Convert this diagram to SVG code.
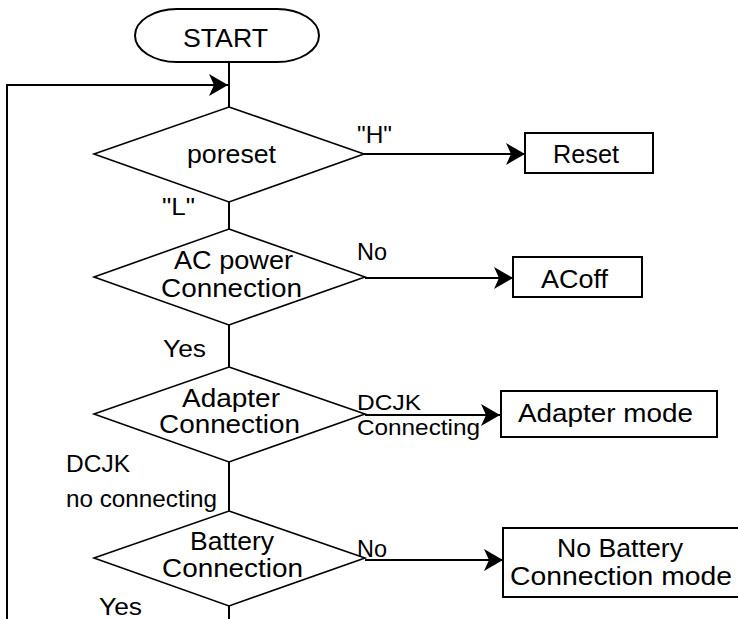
<svg xmlns="http://www.w3.org/2000/svg" width="738" height="619" viewBox="0 0 738 619">
<style>
  .shape { fill: #ffffff; stroke: #000000; stroke-width: 2; }
  .dia { fill: #ffffff; stroke: #000000; stroke-width: 1.6; }
  .conn { fill: none; stroke: #000000; stroke-width: 2; }
  .arrow { fill: none; stroke: #000000; stroke-width: 2; marker-end: url(#ah); }
  text { font-family: "Liberation Sans", Arial, sans-serif; font-size: 24px; fill: #000000; }
  .node { font-size: 25px; }
  .small { font-size: 22px; }
</style>
<defs>
  <marker id="ah" viewBox="-20 -12 21 24" markerWidth="21" markerHeight="24" refX="0" refY="0" orient="auto" markerUnits="userSpaceOnUse">
    <path d="M0,0 L-19,-11 L-14,0 L-19,11 Z" fill="#000000"/>
  </marker>
</defs>
<rect width="738" height="619" fill="#ffffff"/>

<g id="connectors">
  <line class="conn" x1="229" y1="62" x2="229" y2="107"/>
  <polyline class="arrow" points="7,619 7,85 228,85"/>
  <line class="conn" x1="229" y1="202" x2="229" y2="229"/>
  <line class="conn" x1="229" y1="325" x2="229" y2="367"/>
  <line class="conn" x1="229" y1="462" x2="229" y2="511"/>
  <line class="conn" x1="229" y1="606" x2="229" y2="619"/>
  <line class="arrow" x1="364" y1="154" x2="525" y2="154"/>
  <line class="arrow" x1="365" y1="278" x2="513" y2="278"/>
  <line class="arrow" x1="365" y1="415" x2="500" y2="415"/>
  <line class="arrow" x1="365" y1="560" x2="503" y2="560"/>
  <text x="357" y="143" textLength="35" lengthAdjust="spacingAndGlyphs">"H"</text>
  <text x="162" y="215" textLength="33" lengthAdjust="spacingAndGlyphs">"L"</text>
  <text x="357" y="260" textLength="30" lengthAdjust="spacingAndGlyphs">No</text>
  <text x="163" y="357" textLength="43" lengthAdjust="spacingAndGlyphs">Yes</text>
  <text class="small" x="357" y="410" textLength="64" lengthAdjust="spacingAndGlyphs">DCJK</text>
  <text class="small" x="357" y="435" textLength="123" lengthAdjust="spacingAndGlyphs">Connecting</text>
  <text x="66" y="472" textLength="64" lengthAdjust="spacingAndGlyphs">DCJK</text>
  <text x="66" y="507" textLength="151" lengthAdjust="spacingAndGlyphs">no connecting</text>
  <text x="357" y="557" textLength="30" lengthAdjust="spacingAndGlyphs">No</text>
  <text x="99" y="615" textLength="43" lengthAdjust="spacingAndGlyphs">Yes</text>
</g>

<g id="start">
  <rect class="shape" x="135" y="9" width="184" height="53" rx="42" ry="26.5" stroke-width="1.5"/>
  <text class="node" x="183" y="47" textLength="85" lengthAdjust="spacingAndGlyphs">START</text>
</g>

<g id="poreset">
  <polygon class="dia" points="229,107 364,154 229,202 94,154"/>
  <text class="node" x="187" y="163" textLength="89" lengthAdjust="spacingAndGlyphs">poreset</text>
</g>

<g id="reset">
  <rect class="shape" x="525" y="133" width="128" height="40"/>
  <text class="node" x="553" y="163" textLength="66" lengthAdjust="spacingAndGlyphs">Reset</text>
</g>

<g id="ac-power">
  <polygon class="dia" points="229,229 365,277 229,325 94,277"/>
  <text class="node" x="174" y="269" textLength="119" lengthAdjust="spacingAndGlyphs">AC power</text>
  <text class="node" x="161" y="297" textLength="141" lengthAdjust="spacingAndGlyphs">Connection</text>
</g>

<g id="acoff">
  <rect class="shape" x="513" y="257" width="129" height="40"/>
  <text class="node" x="541" y="288" textLength="67" lengthAdjust="spacingAndGlyphs">ACoff</text>
</g>

<g id="adapter">
  <polygon class="dia" points="229,367 365,414 229,462 94,414"/>
  <text class="node" x="182" y="407" textLength="98" lengthAdjust="spacingAndGlyphs">Adapter</text>
  <text class="node" x="159" y="433" textLength="141" lengthAdjust="spacingAndGlyphs">Connection</text>
</g>

<g id="adapter-mode">
  <rect class="shape" x="501" y="391" width="216" height="46"/>
  <text class="node" x="518" y="422" textLength="175" lengthAdjust="spacingAndGlyphs">Adapter mode</text>
</g>

<g id="battery">
  <polygon class="dia" points="229,511 365,558 229,606 94,558"/>
  <text class="node" x="190" y="550" textLength="84" lengthAdjust="spacingAndGlyphs">Battery</text>
  <text class="node" x="162" y="577" textLength="141" lengthAdjust="spacingAndGlyphs">Connection</text>
</g>

<g id="no-battery-mode">
  <rect class="shape" x="503" y="528" width="240" height="69"/>
  <text class="node" x="557" y="557" textLength="126" lengthAdjust="spacingAndGlyphs">No Battery</text>
  <text class="node" x="510" y="585" textLength="222" lengthAdjust="spacingAndGlyphs">Connection mode</text>
</g>
</svg>
